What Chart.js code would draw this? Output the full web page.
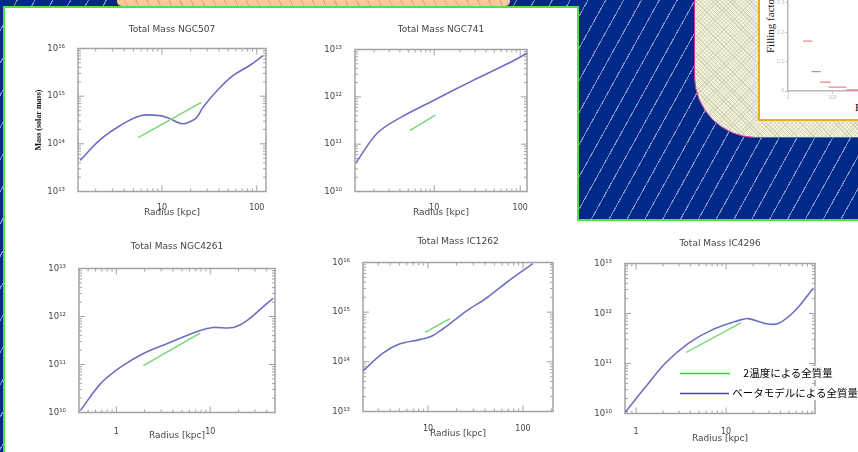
<!DOCTYPE html>
<html>
<head>
<meta charset="utf-8">
<script src="https://cdn.jsdelivr.net/npm/chart.js@4.4.0/dist/chart.umd.min.js"></script>
<style>
html,body{margin:0;padding:0}
body{width:858px;height:452px;overflow:hidden;position:relative;background-color:#00298a;
  background-image:repeating-linear-gradient(119deg,transparent 0 14.5px,rgba(255,255,255,.5) 14.5px 15.6px)}
.abs{position:absolute;box-sizing:border-box}
#peach{left:116px;top:-40px;width:395px;height:47px;border:1px solid #1a2a60;border-radius:0 0 6px 6px;
  background-color:#fcc99b;background-image:repeating-linear-gradient(65deg,transparent 0 9px,rgba(170,120,80,.45) 9px 10px)}
#wA{left:3px;top:6px;width:576px;height:470px;background:#fff;border:2px solid #4ee04e;border-bottom:none}
#wB{left:577px;top:219px;width:290px;height:250px;background:#fff;border-top:2px solid #4ee04e}
#rp{left:694px;top:-90px;width:200px;height:228px;border:1.5px solid #cc3399;border-bottom-left-radius:62px;
  background-color:#f3f2dc;
  background-image:repeating-linear-gradient(45deg,rgba(150,155,120,.3) 0 1px,transparent 1px 3px),
                   repeating-linear-gradient(-45deg,rgba(150,155,120,.2) 0 1px,transparent 1px 3px)}
#ff{left:758px;top:-4px;width:120px;height:125px;background:#fff;border:2px solid #f6a623}
canvas{position:absolute}
.txt{position:absolute;white-space:nowrap}
#ffY{left:764px;top:53px;font:11px "Liberation Serif";color:#111;transform-origin:0 0;transform:rotate(-90deg)}
#ffX{left:855px;top:101px;font:11px "Liberation Serif";color:#111}
.legT{position:absolute;font:10.5px "Noto Sans CJK JP";color:#000;background:#fff;line-height:14px;white-space:nowrap}
#legLines{position:absolute;left:676px;top:366px;z-index:5}
</style>
</head>
<body>
<div class="abs" id="peach"></div>
<div class="abs" id="wA"></div>
<div class="abs" id="wB"></div>
<div class="abs" id="rp"></div>
<div class="abs" id="ff"></div>
<div class="txt" id="ffY">Filling factor</div>
<div class="txt" id="ffX">Radius</div>
<canvas id="mini" width="120" height="128" style="left:762px;top:-10px"></canvas>
<canvas id="c1"></canvas><canvas id="c2"></canvas><canvas id="c3"></canvas><canvas id="c4"></canvas><canvas id="c5"></canvas>
<div class="legT" style="left:741px;top:366px">&nbsp;2温度による全質量</div>
<div class="legT" style="left:730px;top:386px">&nbsp;ベータモデルによる全質量</div>
<svg id="legLines" width="60" height="34">
  <line x1="4" y1="7.5" x2="54" y2="7.5" stroke="#1ee01e" stroke-width="1.3"/>
  <line x1="4" y1="27.5" x2="53" y2="27.5" stroke="#4444a6" stroke-width="1.3"/>
</svg>
<script>
// ---- data ----
const titles = ['Total Mass NGC507', 'Total Mass NGC741', 'Total Mass NGC4261', 'Total Mass IC1262', 'Total Mass IC4296'];

// beta model total mass (blue)
const ngc507R  = [1.37, 2.2, 3.6, 5.9, 9.5, 12, 15.5, 18, 23, 27, 38, 56, 84, 116];
const ngc507M  = [4.5e13, 1.2e14, 2.4e14, 3.9e14, 3.9e14, 3.4e14, 2.7e14, 2.7e14, 3.5e14, 5.8e14, 1.3e15, 2.7e15, 4.4e15, 7.1e15];
const ngc741R  = [1.24, 2.17, 4.0, 9.7, 28, 71, 120];
const ngc741M  = [4.1e10, 1.7e11, 3.6e11, 8.3e11, 2.2e12, 5.0e12, 8.3e12];
const ngc4261R = [0.414, 0.68, 1.1, 1.94, 3.5, 7.8, 10.7, 17.6, 24.8, 40, 47];
const ngc4261M = [1.1e10, 4.0e10, 8.7e10, 1.7e11, 2.75e11, 5.1e11, 5.9e11, 5.9e11, 8.3e11, 1.86e12, 2.4e12];
const ic1262R  = [2.07, 3.36, 5.07, 8.24, 11.3, 17.1, 25.7, 41.7, 67.7, 127];
const ic1262M  = [6.6e13, 1.5e14, 2.3e14, 2.8e14, 3.4e14, 5.9e14, 1.07e15, 1.95e15, 4.0e15, 9.5e15];
const ic4296R  = [0.755, 1.26, 2.1, 3.78, 6.8, 13.6, 17.5, 27.1, 37.8, 58.5, 92.6];
const ic4296M  = [1.05e10, 3.3e10, 1.0e11, 2.5e11, 4.6e11, 7.2e11, 7.9e11, 6.3e11, 6.3e11, 1.15e12, 3.2e12];

// two temperature total mass (green)
const ngc507TR  = [5.6, 26];   const ngc507TM  = [1.35e14, 7.4e14];
const ngc741TR  = [5.25, 10.3]; const ngc741TM  = [1.95e11, 4.1e11];
const ngc4261TR = [1.94, 7.8];  const ngc4261TM = [9.5e10, 4.5e11];
const ic1262TR  = [9.3, 17.1];  const ic1262TM  = [3.9e14, 7.4e14];
const ic4296TR  = [3.6, 14.7];  const ic4296TM  = [1.66e11, 6.6e11];

// axes
const xRanges = [[1.3, 125], [1.2, 120], [0.4, 49], [2.07, 207], [0.755, 97]];
const xTicks  = [[10, 100], [10, 100], [1, 10], [10, 100], [1, 10]];
const yTicks  = [[1e13, 1e14, 1e15, 1e16], [1e10, 1e11, 1e12, 1e13], [1e10, 1e11, 1e12, 1e13],
                 [1e13, 1e14, 1e15, 1e16], [1e10, 1e11, 1e12, 1e13]];

// filling factor inset (red steps)
const ffStart = [34, 53, 72, 91, 132];
const ffEnd   = [55, 74, 96, 132, 170];
const ffVal   = [0.17, 0.066, 0.03, 0.0135, 0.004];

// ---- layout: plot rect [l,t,r,b], title y, x tick label y, x title y ----
const boxes = [
  {plot:[78,48,266,191],  ty:29,  ly:199, xy:212},
  {plot:[355,49,527,191], ty:29,  ly:199, xy:212},
  {plot:[79,268,275,412], ty:246, ly:423, xy:435},
  {plot:[363,262,553,411],ty:241, ly:420, xy:433},
  {plot:[625,263,815,413],ty:243, ly:423, xy:438}
];
const blueR = [ngc507R, ngc741R, ngc4261R, ic1262R, ic4296R];
const blueM = [ngc507M, ngc741M, ngc4261M, ic1262M, ic4296M];
const greenR = [ngc507TR, ngc741TR, ngc4261TR, ic1262TR, ic4296TR];
const greenM = [ngc507TM, ngc741TM, ngc4261TM, ic1262TM, ic4296TM];

function sup(n){ return String(n).split('').map(d => '⁰¹²³⁴⁵⁶⁷⁸⁹'[+d]).join(''); }

// gray frame with inward log ticks on all four sides
const frameTicks = {
  id: 'frameTicks',
  beforeDatasetsDraw(chart){
    const {ctx, chartArea:a, scales:{x, y}} = chart;
    ctx.save();
    ctx.strokeStyle = '#a2a2a2';
    ctx.lineWidth = 1.5;
    ctx.strokeRect(a.left, a.top, a.right - a.left, a.bottom - a.top);
    ctx.lineWidth = 1;
    const each = (s, f) => {
      for (let d = Math.floor(Math.log10(s.min)); d <= Math.ceil(Math.log10(s.max)); d++)
        for (let m = 1; m < 10; m++){
          const v = m * Math.pow(10, d);
          if (v >= s.min * 0.999 && v <= s.max * 1.001) f(s.getPixelForValue(v), m === 1 ? 6 : 3);
        }
    };
    ctx.beginPath();
    each(x, (p, l) => { ctx.moveTo(p, a.bottom); ctx.lineTo(p, a.bottom - l); ctx.moveTo(p, a.top); ctx.lineTo(p, a.top + l); });
    each(y, (p, l) => { ctx.moveTo(a.left, p); ctx.lineTo(a.left + l, p); ctx.moveTo(a.right, p); ctx.lineTo(a.right - l, p); });
    ctx.stroke();
    ctx.restore();
  }
};

const YW = 44, RP = 10;
boxes.forEach((b, i) => {
  const [l, t, r, bt] = b.plot;
  const top = b.ty - 4.5;
  const xH = b.xy + 4.5 - bt;
  const cv = document.getElementById('c' + (i + 1));
  cv.width = YW + (r - l) + RP;
  cv.height = Math.round(bt + xH - top);
  cv.style.left = (l - YW) + 'px';
  cv.style.top = top + 'px';
  const pts = (xs, ys) => xs.map((v, k) => ({x: v, y: ys[k]}));
  new Chart(cv, {
    type: 'line',
    data: {
      datasets: [
        {data: pts(greenR[i], greenM[i]), borderColor: '#74d874', borderWidth: 1.4, pointRadius: 0, tension: 0},
        {data: pts(blueR[i], blueM[i]), borderColor: '#6e6fc2', borderWidth: 1.6, pointRadius: 0, tension: 0.35}
      ]
    },
    options: {
      responsive: false, animation: false,
      layout: {padding: {left: 0, right: RP, top: 0, bottom: 0}},
      plugins: {
        legend: {display: false}, tooltip: {enabled: false},
        title: {display: true, fullSize: false, text: titles[i], color: '#444',
                font: {family: 'DejaVu Sans', size: 9, weight: 'normal', lineHeight: 1},
                padding: {top: 0, bottom: t - top - 9}}
      },
      scales: {
        x: {type: 'logarithmic', min: xRanges[i][0], max: xRanges[i][1],
            grid: {display: false}, border: {display: false},
            afterBuildTicks: s => { s.ticks = xTicks[i].map(v => ({value: v})); },
            afterFit: s => { s.height = xH; },
            ticks: {color: '#444', font: {family: 'DejaVu Sans', size: 8, lineHeight: 1},
                    padding: b.ly - 4 - bt, maxRotation: 0, autoSkip: false,
                    callback: v => String(v)},
            title: {display: true, text: 'Radius [kpc]', color: '#444',
                    font: {family: 'DejaVu Sans', size: 9, lineHeight: 1}, padding: 0}},
        y: {type: 'logarithmic', min: yTicks[i][0], max: yTicks[i][3],
            grid: {display: false}, border: {display: false},
            afterBuildTicks: s => { s.ticks = yTicks[i].map(v => ({value: v})); },
            afterFit: s => { s.width = YW; },
            ticks: {color: '#444', font: {family: 'DejaVu Sans', size: 8.5, lineHeight: 1}, padding: 5,
                    callback: v => '10' + sup(Math.round(Math.log10(v)))},
            title: {display: i === 0, text: 'Mass (solar mass)', color: '#111',
                    font: {family: 'Liberation Serif', size: 8, weight: 'bold', lineHeight: 1},
                    padding: {top: 1, bottom: 0}}}
      }
    },
    plugins: [frameTicks]
  });
});

// filling factor inset
new Chart(document.getElementById('mini'), {
  type: 'line',
  data: {
    datasets: ffStart.map((s, k) => ({
      data: [{x: s, y: ffVal[k]}, {x: ffEnd[k], y: ffVal[k]}],
      borderColor: 'rgba(225,95,95,.75)', borderWidth: 1.2, pointRadius: 0
    }))
  },
  options: {
    responsive: false, animation: false,
    layout: {padding: 0},
    plugins: {legend: {display: false}, tooltip: {enabled: false}},
    scales: {
      x: {type: 'linear', min: 0, max: 200,
          grid: {drawOnChartArea: false, tickLength: 3, color: '#c4c4c4'},
          border: {color: '#b8b8b8', width: 1.5},
          afterFit: s => { s.height = 27; },
          ticks: {stepSize: 100, color: '#bbb', font: {size: 5}, padding: 1}},
      y: {type: 'linear', min: 0, max: 0.33,
          grid: {drawOnChartArea: false, tickLength: 3, color: '#c4c4c4'},
          border: {color: '#b8b8b8', width: 1.5},
          afterFit: s => { s.width = 26; },
          ticks: {stepSize: 0.1, color: '#bbb', font: {size: 5}, padding: 1}}
    }
  }
});
</script>
</body>
</html>
